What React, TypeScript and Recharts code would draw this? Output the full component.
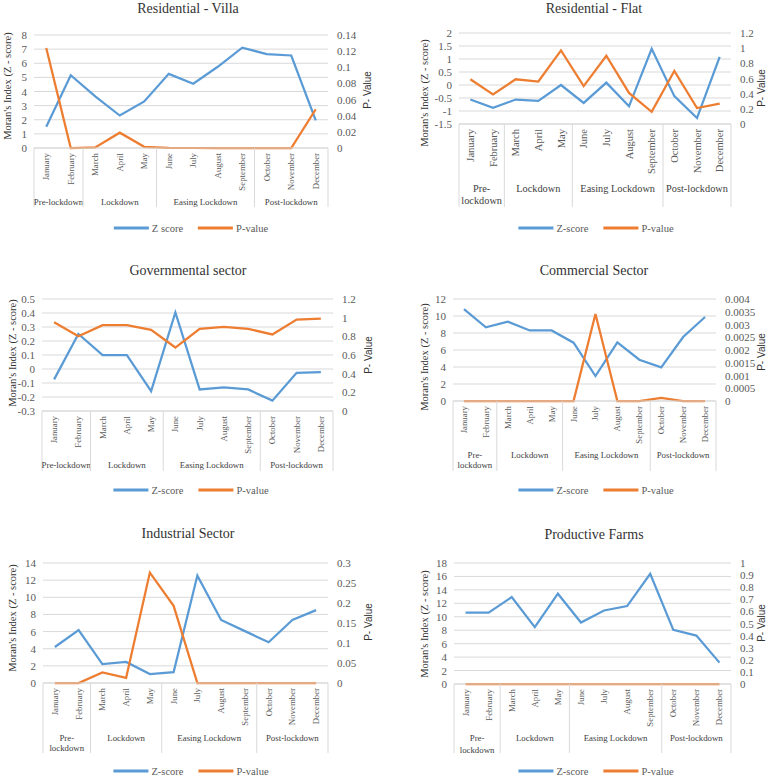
import React from "react";
import { LineChart, Line, XAxis, YAxis, CartesianGrid } from "recharts";

const months = [
  "January", "February", "March", "April", "May", "June",
  "July", "August", "September", "October", "November", "December",
];
const phaseNames = ["Pre-lockdown", "Lockdown", "Easing Lockdown", "Post-lockdown"];
const phaseStart = [0, 2, 5, 9];
const phaseLength = [2, 3, 4, 3];

// Residential - Villa
const villaZ = [1.5, 5.15, 3.65, 2.3, 3.3, 5.25, 4.55, 5.75, 7.1, 6.65, 6.55, 1.95];
const villaP = [0.124, 0, 0.0008, 0.019, 0.0015, 0.0003, 0, 0, 0, 0, 0, 0.048];
const villaLeftTicks = [0, 1, 2, 3, 4, 5, 6, 7, 8];
const villaRightTicks = [0, 0.02, 0.04, 0.06, 0.08, 0.1, 0.12, 0.14];

// Residential - Flat
const flatZ = [-0.56, -0.88, -0.56, -0.61, 0.0, -0.69, 0.09, -0.82, 1.39, -0.43, -1.27, 1.08];
const flatP = [0.59, 0.39, 0.59, 0.56, 0.97, 0.5, 0.9, 0.41, 0.16, 0.7, 0.21, 0.27];
const flatLeftTicks = [-1.5, -1, -0.5, 0, 0.5, 1, 1.5, 2];
const flatRightTicks = [0, 0.2, 0.4, 0.6, 0.8, 1, 1.2];

// Governmental sector
const govZ = [-0.074, 0.25, 0.1, 0.1, -0.158, 0.404, -0.146, -0.131, -0.146, -0.226, -0.027, -0.022];
const govP = [0.95, 0.8, 0.92, 0.92, 0.87, 0.68, 0.88, 0.9, 0.88, 0.82, 0.98, 0.99];
const govLeftTicks = [-0.3, -0.2, -0.1, 0, 0.1, 0.2, 0.3, 0.4, 0.5];
const govRightTicks = [0, 0.2, 0.4, 0.6, 0.8, 1, 1.2];

// Commercial Sector
const comZ = [10.8, 8.67, 9.33, 8.3, 8.3, 6.86, 2.94, 6.9, 4.86, 3.96, 7.53, 9.88];
const comP = [0, 0, 0, 0, 0, 0, 0.00341, 0, 0, 0.00012, 0, 0];
const comLeftTicks = [0, 2, 4, 6, 8, 10, 12];
const comRightTicks = [0, 0.0005, 0.001, 0.0015, 0.002, 0.0025, 0.003, 0.0035, 0.004];

// Industrial Sector
const indZ = [4.2, 6.18, 2.2, 2.45, 1.05, 1.27, 12.53, 7.35, 6.05, 4.76, 7.35, 8.5];
const indP = [0, 0, 0.0265, 0.013, 0.276, 0.193, 0, 0, 0, 0, 0, 0];
const indLeftTicks = [0, 2, 4, 6, 8, 10, 12, 14];
const indRightTicks = [0, 0.05, 0.1, 0.15, 0.2, 0.25, 0.3];

// Productive Farms
const farmZ = [10.6, 10.6, 12.93, 8.46, 13.43, 9.15, 10.94, 11.59, 16.4, 8.06, 7.21, 3.18];
const farmP = [0, 0, 0, 0, 0, 0, 0, 0, 0, 0, 0, 0];
const farmLeftTicks = [0, 2, 4, 6, 8, 10, 12, 14, 16, 18];
const farmRightTicks = [0, 0.1, 0.2, 0.3, 0.4, 0.5, 0.6, 0.7, 0.8, 0.9, 1];

const BLUE = "#5b9bd5";
const ORANGE = "#ed7d31";
const GRID = "#d9d9d9";
const TEXT = "#595959";
const SERIF = '"Liberation Serif", "Times New Roman", serif';
const SANS = '"Liberation Sans", Arial, sans-serif';
const LW = 30;
const RW = 30;

type Plot = { left: number; right: number; top: number; bottom: number; box: number };

type PanelProps = {
  x: number; y: number; w: number; h: number;
  plot: Plot;
  title: string; titleCx: number; titleCy: number;
  legendCx: number; legendCy: number; zLabel: string;
  zTitleCx: number; zTitleCy: number; pTitleCx: number; pTitleCy: number;
  z: number[]; p: number[];
  leftTicks: number[]; rightTicks: number[];
  monthSize: number; groupSize: number; groupDy: number; lineH: number; wrapFirst: boolean;
};

// value ticks on the two y axes, drawn in the serif face
const valueTick = (anchor: "start" | "end") => (tp: any) => (
  <text
    x={tp.x}
    y={tp.y}
    textAnchor={anchor}
    dominantBaseline="central"
    fontSize={11}
    fill={TEXT}
    style={{ fontFamily: SERIF }}
  >
    {String(tp.payload?.value)}
  </text>
);

function Panel(props: PanelProps) {
  const { x, y, w, h, plot, z, p, leftTicks, rightTicks } = props;
  const data = months.map((m, i) => ({ month: m, z: z[i], p: p[i] }));
  const bw = (plot.right - plot.left) / months.length;

  const renderTick = (tp: any) => {
    const value = tp.payload?.value;
    const i = months.indexOf(value);
    const cx = plot.left + bw * (i + 0.5);
    const top = plot.bottom + 5;
    const parts: React.ReactNode[] = [
      <text
        key="m"
        x={cx}
        y={top}
        transform={`rotate(-90 ${cx} ${top})`}
        textAnchor="end"
        dominantBaseline="central"
        fontSize={props.monthSize}
        fill={TEXT}
        style={{ fontFamily: SERIF }}
      >
        {value}
      </text>,
    ];
    const g = phaseStart.indexOf(i);
    if (g >= 0) {
      const left = plot.left + bw * i;
      parts.push(<line key="l" x1={left} x2={left} y1={plot.bottom} y2={plot.box} stroke={GRID} />);
      const gx = left + (bw * phaseLength[g]) / 2;
      const label = phaseNames[g];
      const cut = label.indexOf("-") + 1;
      const lines = props.wrapFirst && g === 0 ? [label.slice(0, cut), label.slice(cut)] : [label];
      lines.forEach((t, k) =>
        parts.push(
          <text
            key={"g" + k}
            x={gx}
            y={plot.bottom + props.groupDy + k * props.lineH}
            textAnchor="middle"
            dominantBaseline="central"
            fontSize={props.groupSize}
            fill="#404040"
            style={{ fontFamily: SERIF }}
          >
            {t}
          </text>
        )
      );
    }
    if (i === months.length - 1) {
      parts.push(<line key="r" x1={plot.right} x2={plot.right} y1={plot.bottom} y2={plot.box} stroke={GRID} />);
    }
    return <g>{parts}</g>;
  };

  return (
    <div style={{ position: "absolute", left: x, top: y, width: w, height: h, fontFamily: SERIF }}>
      <LineChart
        width={w}
        height={h}
        data={data}
        margin={{ left: plot.left - LW, right: w - plot.right - RW, top: plot.top, bottom: h - plot.box }}
      >
        <CartesianGrid yAxisId="left" vertical={false} stroke={GRID} />
        <XAxis
          dataKey="month"
          scale="band"
          interval={0}
          tickLine={false}
          tickSize={0}
          tickMargin={0}
          axisLine={{ stroke: GRID }}
          height={plot.box - plot.bottom}
          tick={renderTick}
        />
        <YAxis
          yAxisId="left"
          domain={[leftTicks[0], leftTicks[leftTicks.length - 1]]}
          ticks={leftTicks}
          interval={0}
          width={LW}
          axisLine={false}
          tickLine={false}
          tickSize={0}
          tickMargin={7}
          tick={valueTick("end")}
        />
        <YAxis
          yAxisId="right"
          orientation="right"
          domain={[rightTicks[0], rightTicks[rightTicks.length - 1]]}
          ticks={rightTicks}
          interval={0}
          width={RW}
          axisLine={false}
          tickLine={false}
          tickSize={0}
          tickMargin={9}
          tick={valueTick("start")}
        />
        <Line yAxisId="left" dataKey="z" stroke={BLUE} strokeWidth={2.25} dot={false} isAnimationActive={false} />
        <Line yAxisId="right" dataKey="p" stroke={ORANGE} strokeWidth={2.25} dot={false} isAnimationActive={false} />
      </LineChart>

      <div
        style={{
          position: "absolute", left: props.titleCx, top: props.titleCy,
          transform: "translate(-50%, -50%)", whiteSpace: "nowrap",
          fontFamily: SERIF, fontSize: 14, color: "#333",
        }}
      >
        {props.title}
      </div>
      <div
        style={{
          position: "absolute", left: props.zTitleCx, top: props.zTitleCy,
          transform: "translate(-50%, -50%) rotate(-90deg)", whiteSpace: "nowrap",
          fontFamily: SERIF, fontSize: 10.5, color: "#333",
        }}
      >
        Moran's Index (Z - score)
      </div>
      <div
        style={{
          position: "absolute", left: props.pTitleCx, top: props.pTitleCy,
          transform: "translate(-50%, -50%) rotate(-90deg)", whiteSpace: "nowrap",
          fontFamily: SANS, fontSize: 10, color: "#333",
        }}
      >
        P- Value
      </div>
      <div
        style={{
          position: "absolute", left: props.legendCx, top: props.legendCy,
          transform: "translate(-50%, -50%)", display: "flex", alignItems: "center",
          whiteSpace: "nowrap", fontFamily: SERIF, fontSize: 10.5, color: TEXT,
        }}
      >
        <span style={{ display: "inline-block", width: 35, height: 2.5, background: BLUE, marginRight: 3 }} />
        <span style={{ marginRight: 15 }}>{props.zLabel}</span>
        <span style={{ display: "inline-block", width: 35, height: 2.5, background: ORANGE, marginRight: 3 }} />
        <span>P-value</span>
      </div>
    </div>
  );
}

export default function App() {
  return (
    <div style={{ position: "absolute", left: 0, top: 0, width: 769, height: 777, overflow: "hidden", background: "#fff", fontFamily: SERIF }}>
      <Panel
        x={0} y={0} w={384} h={260}
        plot={{ left: 34, right: 328, top: 35, bottom: 148, box: 207 }}
        title="Residential - Villa" titleCx={188} titleCy={9}
        legendCx={191} legendCy={228} zLabel="Z score"
        zTitleCx={7} zTitleCy={86} pTitleCx={367} pTitleCy={90}
        z={villaZ} p={villaP} leftTicks={villaLeftTicks} rightTicks={villaRightTicks}
        monthSize={8.8} groupSize={8.8} groupDy={54} lineH={10} wrapFirst={false}
      />
      <Panel
        x={384} y={0} w={385} h={260}
        plot={{ left: 75, right: 347, top: 33, bottom: 124, box: 207 }}
        title="Residential - Flat" titleCx={210} titleCy={9}
        legendCx={212} legendCy={228} zLabel="Z-score"
        zTitleCx={40} zTitleCy={93} pTitleCx={377} pTitleCy={88}
        z={flatZ} p={flatP} leftTicks={flatLeftTicks} rightTicks={flatRightTicks}
        monthSize={10.5} groupSize={10.3} groupDy={64} lineH={12} wrapFirst={true}
      />
      <Panel
        x={0} y={260} w={384} h={260}
        plot={{ left: 42, right: 333, top: 39, bottom: 151, box: 211 }}
        title="Governmental sector" titleCx={188} titleCy={11}
        legendCx={191} legendCy={230} zLabel="Z-score"
        zTitleCx={12} zTitleCy={93} pTitleCx={368} pTitleCy={95}
        z={govZ} p={govP} leftTicks={govLeftTicks} rightTicks={govRightTicks}
        monthSize={8.8} groupSize={8.8} groupDy={54} lineH={10} wrapFirst={false}
      />
      <Panel
        x={384} y={260} w={385} h={260}
        plot={{ left: 69, right: 332, top: 39, bottom: 141, box: 211 }}
        title="Commercial Sector" titleCx={210} titleCy={11}
        legendCx={212} legendCy={230} zLabel="Z-score"
        zTitleCx={40} zTitleCy={97} pTitleCx={377} pTitleCy={92}
        z={comZ} p={comP} leftTicks={comLeftTicks} rightTicks={comRightTicks}
        monthSize={8.8} groupSize={8.8} groupDy={54} lineH={10} wrapFirst={true}
      />
      <Panel
        x={0} y={520} w={384} h={257}
        plot={{ left: 43, right: 328, top: 43, bottom: 163, box: 233 }}
        title="Industrial Sector" titleCx={188} titleCy={14}
        legendCx={191} legendCy={251} zLabel="Z-score"
        zTitleCx={12} zTitleCy={98} pTitleCx={368} pTitleCy={102}
        z={indZ} p={indP} leftTicks={indLeftTicks} rightTicks={indRightTicks}
        monthSize={8.8} groupSize={8.8} groupDy={55} lineH={10} wrapFirst={true}
      />
      <Panel
        x={384} y={520} w={385} h={257}
        plot={{ left: 70, right: 347, top: 43, bottom: 164, box: 233 }}
        title="Productive Farms" titleCx={210} titleCy={15}
        legendCx={212} legendCy={251} zLabel="Z-score"
        zTitleCx={40} zTitleCy={104} pTitleCx={377} pTitleCy={103}
        z={farmZ} p={farmP} leftTicks={farmLeftTicks} rightTicks={farmRightTicks}
        monthSize={8.8} groupSize={8.8} groupDy={54} lineH={12} wrapFirst={true}
      />
    </div>
  );
}
